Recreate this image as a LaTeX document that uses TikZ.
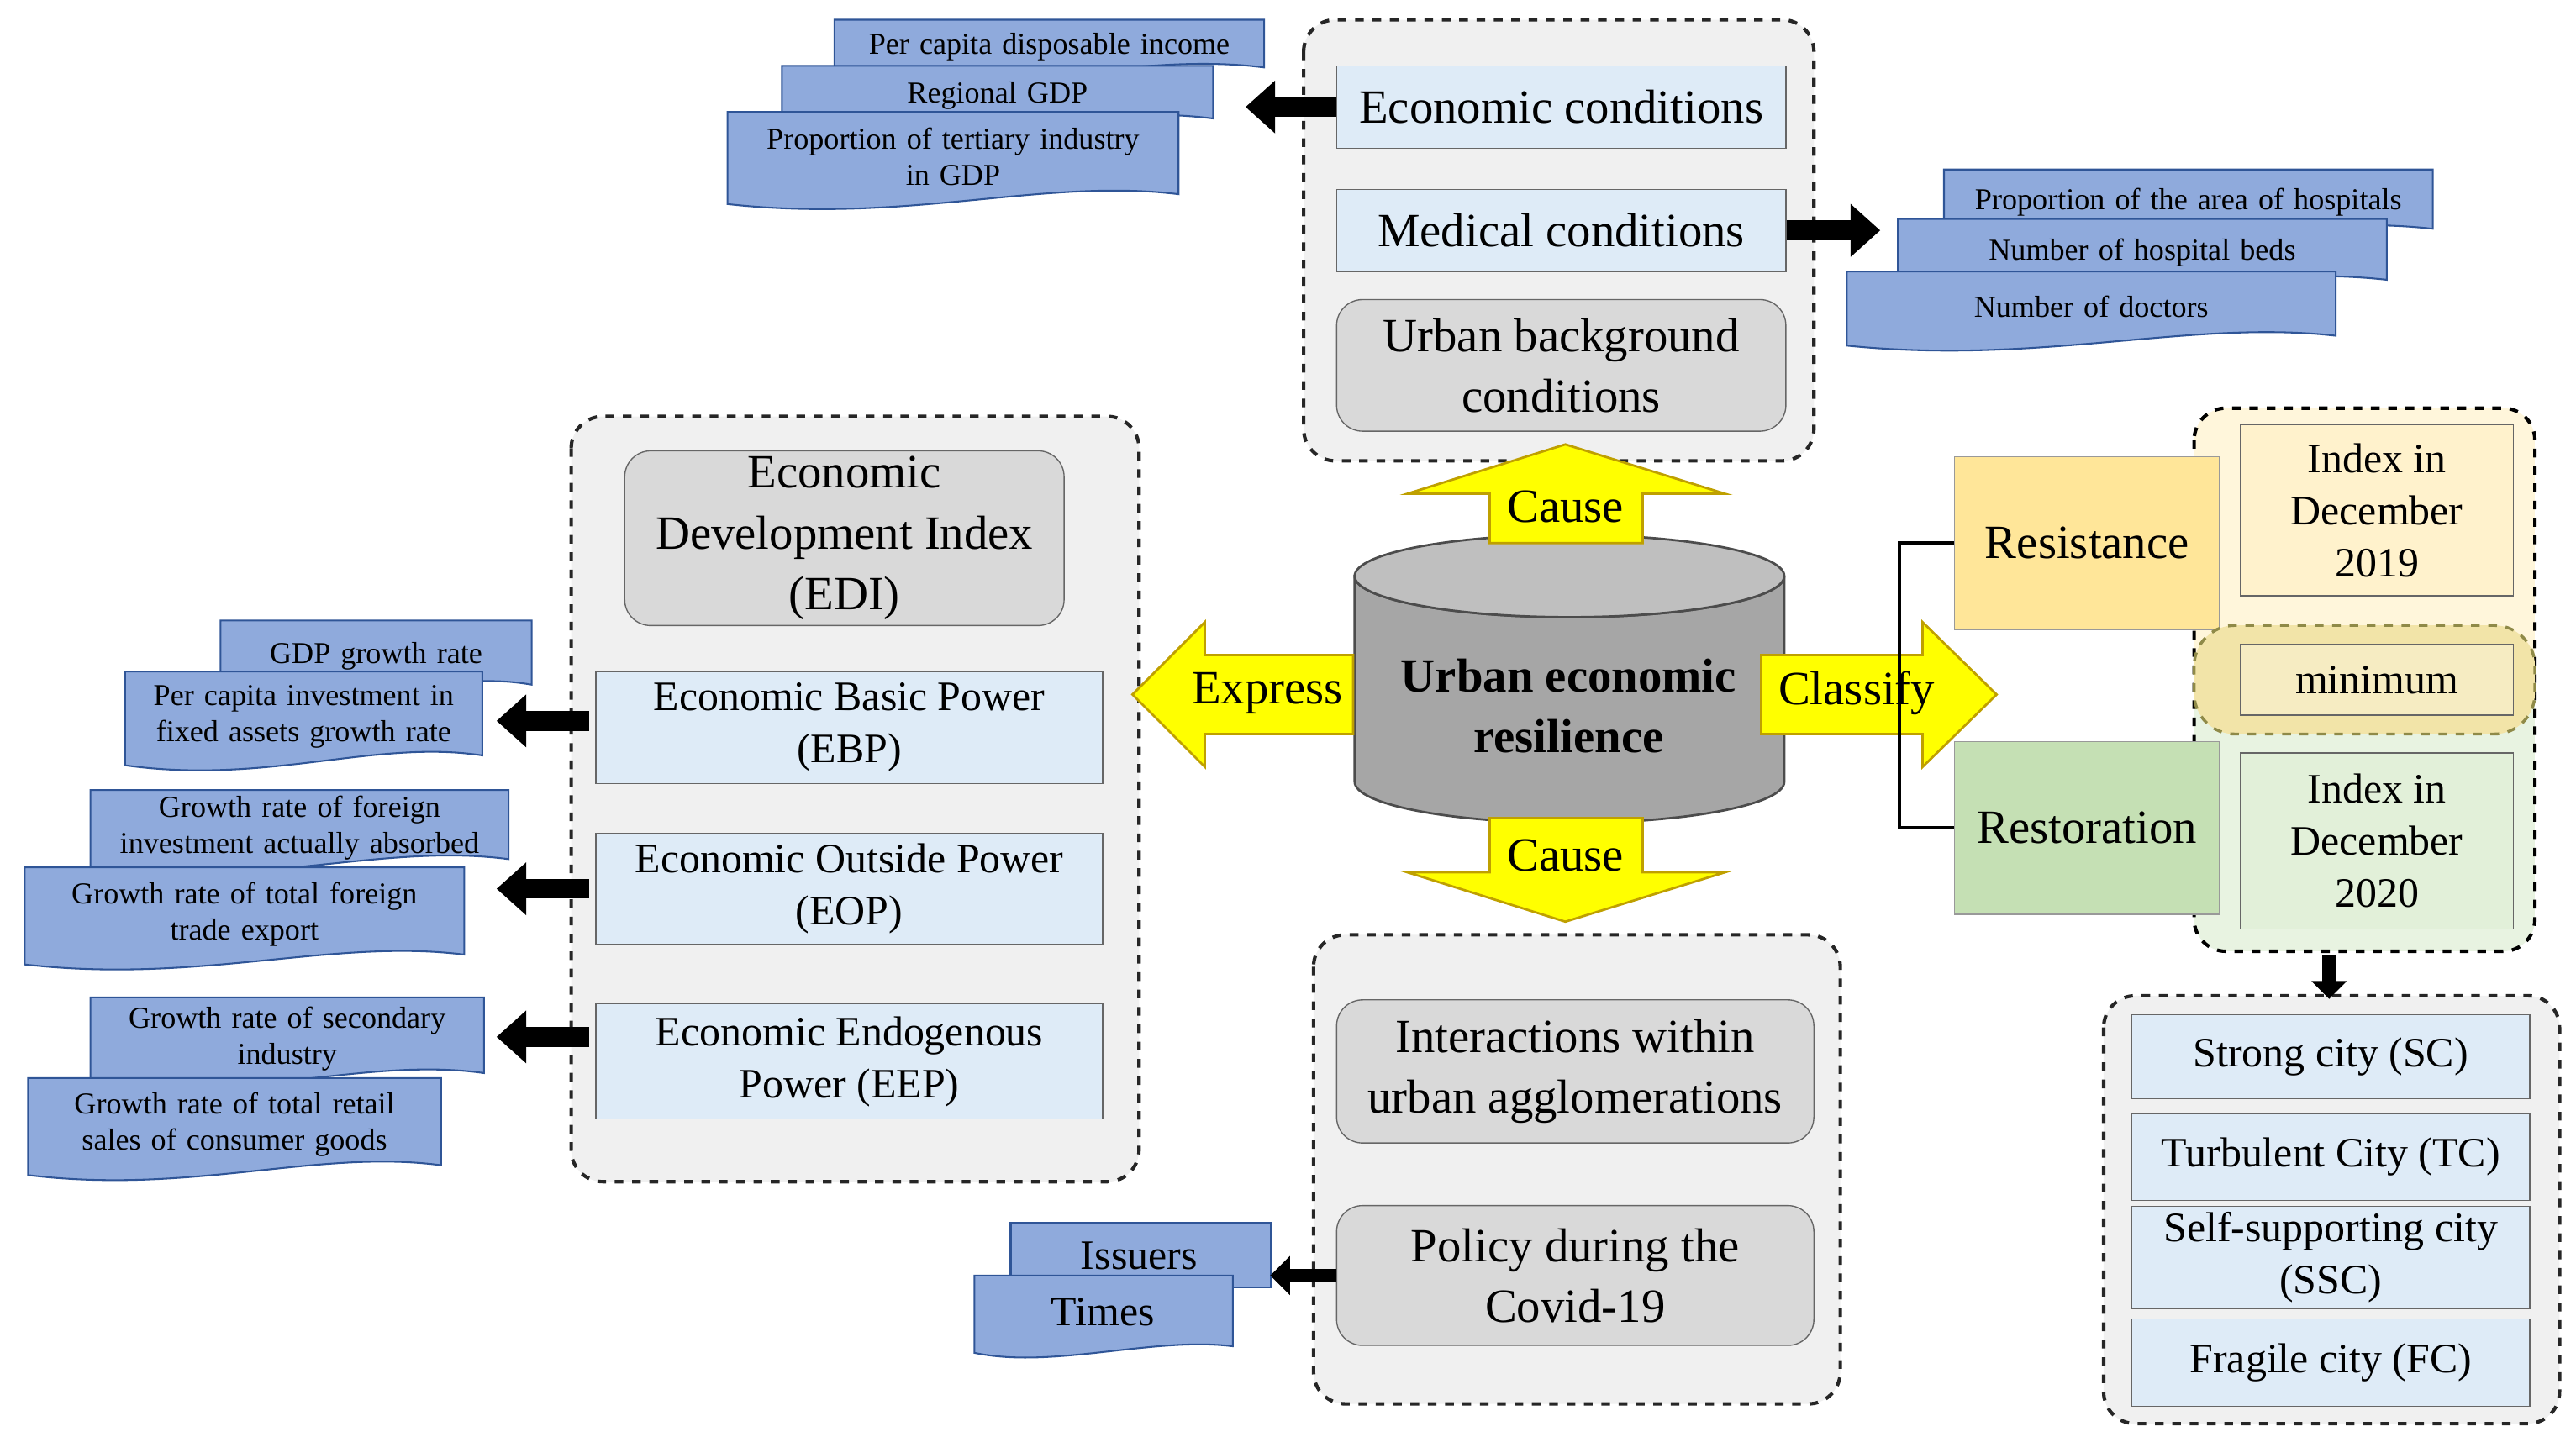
\documentclass[tikz,border=0pt]{standalone}
\usepackage{fontspec}
\setmainfont{Liberation Serif}
\usepackage{tikz}
\usetikzlibrary{calc}
\usetikzlibrary{arrows.meta}
\usepackage{xcolor}
\definecolor{docblue}{HTML}{8FAADC}
\definecolor{docline}{HTML}{2F5597}
\definecolor{boxblue}{HTML}{DEEBF7}
\definecolor{boxgray}{HTML}{D9D9D9}
\definecolor{groupgray}{HTML}{F0F0F0}
\definecolor{resyellow}{HTML}{FFE699}
\definecolor{resgreen}{HTML}{C5E0B4}
\definecolor{paleyellow}{HTML}{FFF2CC}
\definecolor{palegreen}{HTML}{E2F0D9}
\definecolor{minyellow}{HTML}{F2E4A8}
\definecolor{arrowyellow}{HTML}{FFFF00}
\definecolor{arrowline}{HTML}{BFA000}
\definecolor{cylbody}{HTML}{A6A6A6}
\definecolor{cyltop}{HTML}{BFBFBF}
\tikzset{
  group/.style={draw=black!85, dashed, line width=1.2pt, rounded corners=11pt, fill=groupgray},
  bluebox/.style={draw=black!60, fill=boxblue, align=center, inner sep=2pt},
  graybox/.style={draw=black!60, fill=boxgray, rounded corners=9pt, align=center, inner sep=2pt},
  big/.style={font=\fontsize{16.5}{21}\selectfont},
  mid/.style={font=\fontsize{14.5}{18}\selectfont},
  small/.style={font=\fontsize{10.5}{12.5}\selectfont},
  docshape/.style={draw=docline, fill=docblue, line width=0.6pt},
  blk/.style={line width=0.24cm, -{Triangle[length=0.36cm,width=0.62cm]}},
  yarrow/.style={draw=arrowline, fill=arrowyellow, line width=0.8pt},
}
% document shape with a wavy bottom, text node on top
\newcommand\doc[6]{%
  \path[docshape] (#2,#3) -- (#4,#3) -- (#4,{#5-4})
    .. controls ({#4-0.3*(#4-#2)},{#5-14}) and ({#2+0.4*(#4-#2)},{#5+14}) .. (#2,{#5+2}) -- cycle;
  \node[small, align=center, text width={(#4-#2)*0.02cm-0.2cm}, inner sep=0pt] (#1) at ({(#2+#4)/2},{(#3+#5)/2}) {#6};
}

\begin{document}
\begin{tikzpicture}[x=0.02cm, y=-0.02cm]
\useasboundingbox (0,0) rectangle (1565,873);

%%%%%%%%%%%%%%%%%%%%%%%%%%%%%%%%%%%%%%%% groups
\draw[group] (792,12) rectangle (1102,280);
\draw[group] (347,253) rectangle (692,718);
\draw[group] (798,568) rectangle (1118,853);
\draw[group] (1278,605) rectangle (1555,865);
\begin{scope}
  \clip[rounded corners=11pt] (1333,248) rectangle (1540,578);
  \fill[paleyellow!70] (1333,248) rectangle (1540,413);
  \fill[palegreen!80] (1333,413) rectangle (1540,578);
\end{scope}
\draw[dashed, line width=1.2pt, rounded corners=11pt] (1333,248) rectangle (1540,578);

%%%%%%%%%%%%%%%%%%%%%%%%%%%%%%%%%%%%%%%% top
\node[bluebox, big, minimum width=5.46cm, minimum height=1.0cm] (econ) at (948.5,65) {Economic conditions};
\node[bluebox, big, minimum width=5.46cm, minimum height=1.0cm] (med) at (948.5,140) {Medical conditions};
\node[graybox, big, minimum width=5.46cm, minimum height=1.6cm] (urbanbg) at (948.5,222) {Urban background\\conditions};

\doc{income}{507}{12}{768}{45}{Per capita disposable income}
\doc{gdp}{475}{40}{737}{76}{Regional GDP}
\doc{tertiary}{442}{68}{716}{122}{Proportion of tertiary industry\\in GDP}
\draw[blk] (econ.west) -- ++(-55,0);

\draw[blk] (med.east) -- ++(57,0);
\doc{hosparea}{1181}{103}{1478}{143}{Proportion of the area of hospitals}
\doc{beds}{1153}{133}{1450}{174}{Number of hospital beds}
\doc{doctors}{1122}{165}{1419}{208}{Number of doctors}

%%%%%%%%%%%%%%%%%%%%%%%%%%%%%%%%%%%%%%%% left
\node[graybox, big, minimum width=5.34cm, minimum height=2.04cm] (edi) at (513,327) {Economic\\Development Index\\(EDI)};
\node[bluebox, mid, minimum width=6.16cm, minimum height=1.36cm] (ebp) at (516,442) {Economic Basic Power\\(EBP)};
\node[bluebox, mid, minimum width=6.16cm, minimum height=1.34cm] (eop) at (516,540) {Economic Outside Power\\(EOP)};
\node[bluebox, mid, minimum width=6.16cm, minimum height=1.4cm] (eep) at (516,645) {Economic Endogenous\\Power (EEP)};

\doc{gdprate}{134}{377}{323}{420}{GDP growth rate}
\doc{fixed}{76}{408}{293}{463}{Per capita investment in\\fixed assets growth rate}
\doc{foreign}{55}{480}{309}{526}{Growth rate of foreign\\investment actually absorbed}
\doc{export}{15}{527}{282}{584}{Growth rate of total foreign\\trade export}
\doc{secondary}{55}{606}{294}{656}{Growth rate of secondary\\industry}
\doc{retail}{17}{655}{268}{712}{Growth rate of total retail\\sales of consumer goods}
\draw[blk] ($(ebp.west)+(-4,-4)$) -- ++(-56,0);
\draw[blk] ($(eop.west)+(-4,0)$) -- ++(-56,0);
\draw[blk] ($(eep.west)+(-4,-15)$) -- ++(-56,0);

%%%%%%%%%%%%%%%%%%%%%%%%%%%%%%%%%%%%%%%% centre
\draw[draw=black!70, fill=cylbody, line width=0.8pt] (823,350) -- (823,475)
  arc[start angle=180, end angle=0, x radius=130.5, y radius=25] -- (1084,350)
  arc[start angle=0, end angle=180, x radius=130.5, y radius=25] -- cycle;
\draw[draw=black!70, fill=cyltop, line width=0.8pt] (953.5,350) ellipse [x radius=130.5, y radius=25];
\node[big, font=\fontsize{16.5}{21}\selectfont\bfseries, align=center] (core) at (953,429) {Urban economic\\resilience};

\draw[yarrow] (905,330) -- (905,300) -- (855,300) -- (951,270) -- (1048,300) -- (998,300) -- (998,330) -- cycle;
\node[big] (causeup) at (951,308) {Cause};
\draw[yarrow] (905,497) -- (905,530) -- (855,530) -- (951,560) -- (1048,530) -- (998,530) -- (998,497) -- cycle;
\node[big] (causedown) at (951,520) {Cause};
\draw[yarrow] (822,398) -- (732,398) -- (732,378) -- (688,422) -- (732,466) -- (732,446) -- (822,446) -- cycle;
\node[big] (express) at (770,421) {Express};
\draw[yarrow] (1070,398) -- (1168,398) -- (1168,378) -- (1213,422) -- (1168,466) -- (1168,446) -- (1070,446) -- cycle;
\node[big] (classify) at (1128,421) {Classify};

%%%%%%%%%%%%%%%%%%%%%%%%%%%%%%%%%%%%%%%% right
\node[draw=black!40, fill=resyellow, big, minimum width=3.22cm, minimum height=2.1cm] (resist) at (1268,330) {Resistance};
\node[draw=black!40, fill=resgreen, big, minimum width=3.22cm, minimum height=2.1cm] (restore) at (1268,503) {Restoration};
\draw[line width=1.2pt] (resist.west) -- ++(-33,0) |- (restore.west);

\node[draw=black!60, fill=paleyellow, mid, align=center, minimum width=3.32cm, minimum height=2.08cm] (idx19) at (1444,310) {Index in\\December\\2019};
\draw[dashed, draw=black!50!yellow, line width=1pt, rounded corners=14pt, fill=minyellow] (1333,380) rectangle (1540,446);
\node[draw=black!60, fill=minyellow!70!white, mid, minimum width=3.32cm, minimum height=0.86cm] (minimum) at (1444,413) {minimum};
\node[draw=black!60, fill=palegreen, mid, align=center, minimum width=3.32cm, minimum height=2.14cm] (idx20) at (1444,511) {Index in\\December\\2020};

\coordinate (typetop) at (1415,607);
\draw[line width=0.16cm, -{Triangle[length=0.22cm,width=0.42cm]}] (1415,580) -- (typetop);
\node[bluebox, mid, minimum width=4.84cm, minimum height=1.02cm] (sc) at (1416,642) {Strong city (SC)};
\node[bluebox, mid, minimum width=4.84cm, minimum height=1.06cm] (tc) at (1416,703) {Turbulent City (TC)};
\node[bluebox, mid, minimum width=4.84cm, minimum height=1.1cm] (ssc) at (1416,764) {Self-supporting city\\(SSC)};
\node[bluebox, mid, minimum width=4.84cm, minimum height=1.06cm] (fc) at (1416,828) {Fragile city (FC)};

%%%%%%%%%%%%%%%%%%%%%%%%%%%%%%%%%%%%%%%% bottom
\node[graybox, big, minimum width=5.8cm, minimum height=1.74cm] (interact) at (957,651) {Interactions within\\urban agglomerations};
\node[graybox, big, minimum width=5.8cm, minimum height=1.7cm] (policy) at (957,775) {Policy during the\\Covid-19};
\path[docshape] (614,743) -- (772,743) -- (772,782) -- (614,782) -- cycle;
\node[mid] (issuers) at (692,763) {Issuers};
\path[docshape] (592,775) -- (749,775) -- (749,818) .. controls (700,812) and (640,832) .. (592,822) -- cycle;
\node[mid] (times) at (670,797) {Times};
\draw[line width=0.16cm, -{Triangle[length=0.24cm,width=0.46cm]}] (policy.west) -- ++(-40,0);

\end{tikzpicture}
\end{document}
